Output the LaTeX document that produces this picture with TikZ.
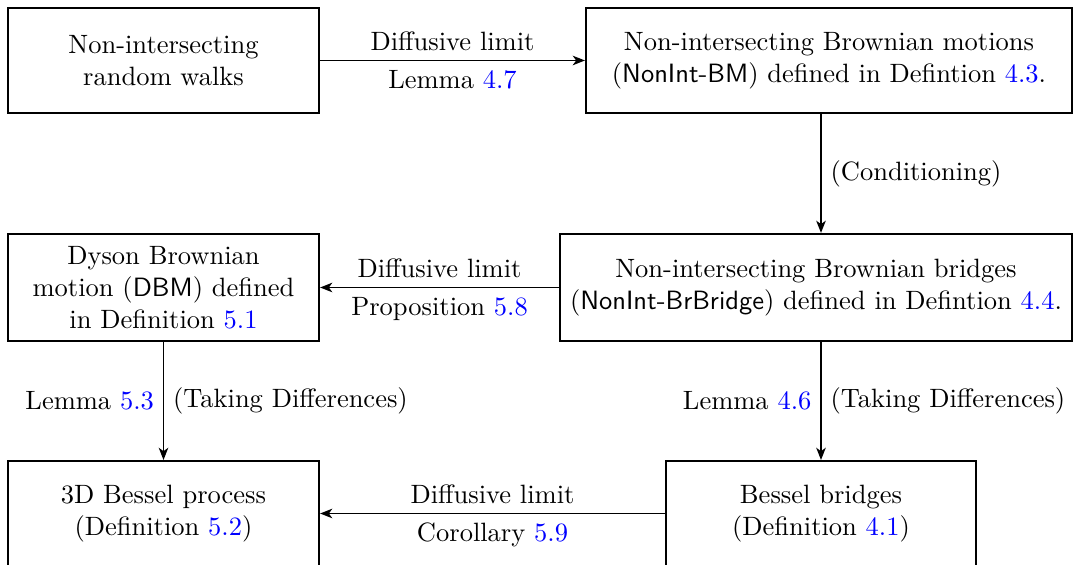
\documentclass[tikz,border=0pt]{standalone}
\usepackage{xcolor}
\usetikzlibrary{arrows.meta}
\newcommand\myref[1]{\textcolor{blue}{#1}}
\begin{document}
\begin{tikzpicture}[x=0.37736pt,y=-0.37736pt,
  box/.style={draw, line width=0.8pt, minimum height=39.6pt, align=center, inner sep=0pt},
  arr/.style={-{Stealth[length=4.6pt,width=3.6pt,inset=1.3pt]}, line width=0.6pt}]
\useasboundingbox (0,0) rectangle (1076,565);
\node[box, minimum width=117.4pt] (walks) at (163.5,60.5) {Non-intersecting\\random walks};
\node[box, minimum width=183.4pt] (bm) at (829,60.5) {Non-intersecting Brownian motions\\(\textsf{NonInt-BM}) defined in Defintion \myref{4.3}.};
\node[box, minimum width=117.4pt, minimum height=40.4pt] (dbm) at (163.5,287.5) {Dyson Brownian\\motion (\textsf{DBM}) defined\\in Definition \myref{5.1}};
\node[box, minimum width=193.2pt, minimum height=40.4pt] (br) at (816,287.5) {Non-intersecting Brownian bridges\\(\textsf{NonInt-BrBridge}) defined in Defintion \myref{4.4}.};
\node[box, minimum width=117.4pt] (bes) at (163.5,513.5) {3D Bessel process\\(Definition \myref{5.2})};
\node[box, minimum width=117pt] (bb) at (821,513.5) {Bessel bridges\\(Definition \myref{4.1})};
\draw[arr] (walks) -- (bm) node[midway,above]{Diffusive limit} node[midway,below]{Lemma \myref{4.7}};
\draw[arr] (bm.south -| bb.north) -- (br.north -| bb.north) node[midway,right]{(Conditioning)};
\draw[arr] (br) -- (dbm) node[midway,above]{Diffusive limit} node[midway,below]{Proposition \myref{5.8}};
\draw[arr] (dbm) -- (bes) node[midway,left]{Lemma \myref{5.3}} node[midway,right]{(Taking Differences)};
\draw[arr] (br.south -| bb.north) -- (bb) node[midway,left]{Lemma \myref{4.6}} node[midway,right]{(Taking Differences)};
\draw[arr] (bb) -- (bes) node[midway,above]{Diffusive limit} node[midway,below]{Corollary \myref{5.9}};
\end{tikzpicture}
\end{document}
